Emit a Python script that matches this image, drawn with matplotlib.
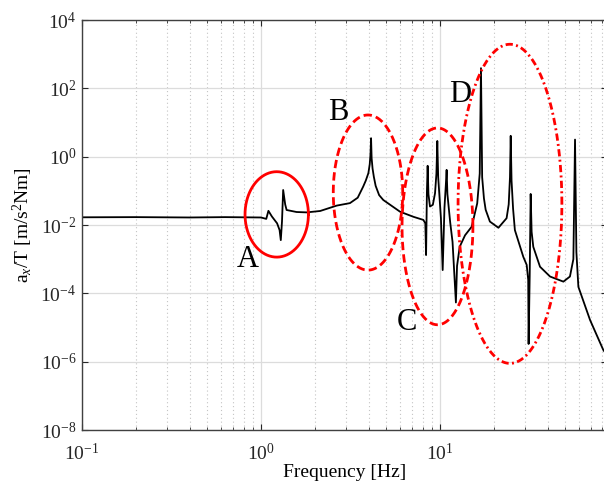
import numpy as np
import matplotlib
matplotlib.use("Agg")
import matplotlib.pyplot as plt

# Schriften: alles in Times-aehnlicher Serifenschrift
plt.rcParams['font.family'] = ['Liberation Serif', 'DejaVu Serif']
plt.rcParams['mathtext.fontset'] = 'custom'
plt.rcParams['mathtext.rm'] = 'Liberation Serif'
plt.rcParams['mathtext.it'] = 'Liberation Serif:italic'

# Frequenzgang
freq_hz = [0.1, 0.2, 0.4, 0.63, 1.0, 1.07, 1.10, 1.15, 1.23, 1.27, 1.29, 1.31, 1.33, 1.365,
           1.39, 1.58, 1.80, 2.14, 2.65, 3.14, 3.47, 3.72, 3.85, 3.98, 4.05, 4.09, 4.12,
           4.15, 4.2, 4.27, 4.37, 4.57, 4.82, 5.98, 7.10, 8.07, 8.28, 8.36, 8.45, 8.53,
           8.62, 8.79, 9.12, 9.38, 9.55, 9.66, 9.77, 10.12, 10.35, 10.59, 10.78, 10.89,
           11.0, 11.4, 11.75, 12.27, 12.45, 12.88, 13.8, 15.03, 16.14, 16.67, 16.94, 17.2,
           17.6, 17.99, 19.0, 21.2, 23.55, 24.2, 24.6, 24.83, 25.1, 25.6, 26.2, 29.2, 30.5,
           31.1, 31.26, 31.7, 32.1, 32.5, 33.2, 36.2, 41.2, 48.9, 53.2, 55.6, 56.8, 57.8,
           59.3, 68.9, 81.7, 87.1]
amp = [0.0168, 0.0170, 0.0166, 0.0170, 0.0166, 0.0151, 0.026, 0.0178, 0.0112, 0.0071,
       0.0036, 0.0126, 0.106, 0.040, 0.0275, 0.024, 0.0234, 0.0257, 0.037, 0.0437, 0.063,
       0.132, 0.20, 0.33, 0.6, 1.2, 3.47, 0.9, 0.45, 0.257, 0.14, 0.075, 0.054, 0.0245,
       0.0174, 0.0141, 0.0112, 0.00132, 0.09, 0.54, 0.08, 0.0347, 0.039, 0.085, 0.32,
       2.88, 0.25, 0.0158, 0.00048, 0.0316, 0.15, 0.41, 0.08, 0.012, 0.0032, 5.4e-5,
       6.3e-4, 0.0023, 0.005, 0.0089, 0.043, 0.32, 389, 0.25, 0.06, 0.028, 0.0126,
       0.0083, 0.0158, 0.04, 0.25, 4.07, 0.2, 0.03, 0.0071, 0.00117, 0.00068, 2.5e-4,
       3.3e-6, 3.2e-4, 0.081, 0.0063, 0.0023, 6.0e-4, 3.1e-4, 2.2e-4, 3.1e-4, 0.001,
       3.16, 0.0016, 1.55e-4, 1.66e-5, 2.2e-6, 1.4e-6]

# Markierungen A-D: Mittelpunkt (Hz, Wert), Halbachsen in Dekaden
region_labels = ['A', 'B', 'C', 'D']
region_center_f = [1.224, 3.96, 9.68, 24.6]
region_center_y = [10**-1.69, 10**-1.05, 10**-2.04, 10**-1.38]
region_half_f = [0.177, 0.194, 0.198, 0.29]
region_half_y = [1.25, 2.27, 2.88, 4.67]
region_styles = ['-', (0, (3, 1.5)), (0, (3, 1.5)), (0, (2.6, 1.2, 0.7, 1.2))]
label_f = [0.845, 2.69, 6.55, 12.9]
label_y = [10**-3.02, 10**1.28, 10**-4.84, 10**1.805]

fig = plt.figure(figsize=(6.04, 4.93), dpi=100)
ax = fig.add_axes([82 / 604, 63 / 493, 525 / 604, 410 / 493])

ax.plot(freq_hz, amp, color='black', lw=1.3)

t = np.linspace(0, 2 * np.pi, 400)
for i in range(len(region_labels)):
    lf = np.log10(region_center_f[i]) + region_half_f[i] * np.cos(t)
    ly = np.log10(region_center_y[i]) + region_half_y[i] * np.sin(t)
    ax.plot(10**lf, 10**ly, color='red', lw=2.0, linestyle=region_styles[i])
    ax.text(label_f[i], label_y[i], region_labels[i], fontsize=22,
            ha='center', va='center')

ax.set_xscale('log')
ax.set_yscale('log')
ax.set_xlim(0.1, 10**(-1 + 525 / 179))
ax.set_ylim(1e-8, 1e4)
ax.set_yticks([10.0**k for k in range(-8, 5, 2)])
ax.yaxis.set_minor_locator(matplotlib.ticker.NullLocator())

ax.grid(True, which='major', color='#dcdcdc', lw=0.9, ls='-')
ax.grid(True, which='minor', axis='x', color='#c4c4c4', lw=0.8, ls=(0, (1, 2.5)))
ax.set_axisbelow(True)

ax.tick_params(which='both', direction='in', top=True, right=True,
               labelsize=14, colors='#262626', pad=4)
ax.tick_params(axis='x', which='both', pad=9)
ax.tick_params(which='major', length=4)
ax.tick_params(which='minor', length=2)
for s in ax.spines.values():
    s.set_color('#404040')
    s.set_linewidth(1.0)

ax.set_xlabel('Frequency [Hz]', fontsize=14, labelpad=0)
ax.set_ylabel('a$_x$/T [m/s$^2$Nm]', fontsize=14, labelpad=4)

fig.savefig('out.png', dpi=100)
